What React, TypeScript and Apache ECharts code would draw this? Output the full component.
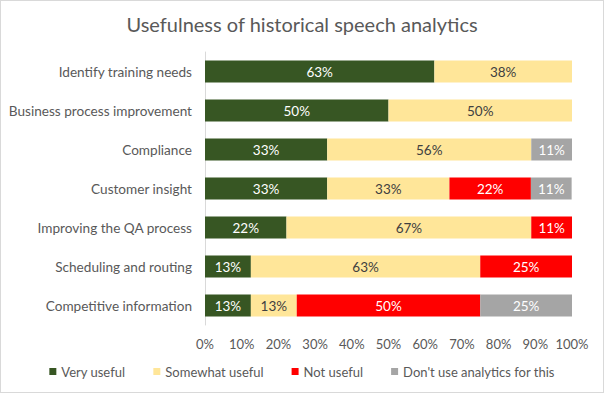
import React, { useEffect, useRef } from "react";
import * as echarts from "echarts";

const categories = [
  "Identify training needs",
  "Business process improvement",
  "Compliance",
  "Customer insight",
  "Improving the QA process",
  "Scheduling and routing",
  "Competitive information",
];
const veryUseful = [62.5, 50, 33.3, 33.3, 22.2, 12.5, 12.5];
const somewhatUseful = [37.5, 50, 55.6, 33.3, 66.7, 62.5, 12.5];
const notUseful = [0, 0, 0, 22.2, 11.1, 25, 50];
const dontUse = [0, 0, 11.1, 11.1, 0, 0, 25];
const seriesNames = ["Very useful", "Somewhat useful", "Not useful", "Don't use analytics for this"];
const colors = ["#375623", "#FFE699", "#FF0000", "#A5A5A5"];
const labelColors = ["#FFFFFF", "#404040", "#FFFFFF", "#FFFFFF"];

const FONT = "Lato, 'Open Sans', sans-serif";

export default function App() {
  const ref = useRef<HTMLDivElement>(null);
  useEffect(() => {
    if (!ref.current) return;
    const chart = echarts.init(ref.current, undefined, { renderer: "svg" });
    const data = [veryUseful, somewhatUseful, notUseful, dontUse];
    chart.setOption({
      animation: false,
      backgroundColor: "#ffffff",
      textStyle: { fontFamily: FONT },
      title: {
        text: "Usefulness of historical speech analytics",
        left: "center",
        top: 8,
        textStyle: { fontFamily: FONT, fontSize: 20, fontWeight: "normal", color: "#595959" },
      },
      legend: {
        bottom: 9,
        left: "center",
        itemWidth: 7,
        itemHeight: 7,
        itemGap: 28,
        icon: "rect",
        textStyle: { fontFamily: FONT, fontSize: 13, color: "#595959" },
        data: seriesNames,
      },
      grid: { left: 204, right: 31, top: 51, bottom: 67, containLabel: false },
      xAxis: {
        type: "value",
        min: 0,
        max: 100,
        interval: 10,
        axisLine: { show: false },
        axisTick: { show: false },
        splitLine: { show: false },
        axisLabel: {
          formatter: (v: number) => v + "%",
          fontFamily: FONT,
          fontSize: 13,
          color: "#595959",
          margin: 12,
        },
      },
      yAxis: {
        type: "category",
        inverse: true,
        data: categories,
        axisLine: { show: true, lineStyle: { color: "#D9D9D9" } },
        axisTick: { show: false },
        axisLabel: { fontFamily: FONT, fontSize: 13.6, color: "#595959", margin: 13 },
      },
      series: seriesNames.map((name, i) => ({
        name,
        type: "bar",
        stack: "total",
        barWidth: 22,
        itemStyle: { color: colors[i] },
        label: {
          show: true,
          position: "inside",
          color: labelColors[i],
          fontFamily: FONT,
          fontSize: 13.5,
          formatter: (p: any) => (p.value > 0 ? Math.round(p.value) + "%" : ""),
        },
        data: data[i],
      })),
    });
    return () => chart.dispose();
  }, []);
  return (
    <div
      style={{
        position: "fixed",
        left: 0,
        top: 0,
        width: 604,
        height: 393,
        boxSizing: "border-box",
        border: "1px solid #D9D9D9",
        background: "#fff",
      }}
    >
      <div ref={ref} style={{ width: 602, height: 391 }} />
    </div>
  );
}
